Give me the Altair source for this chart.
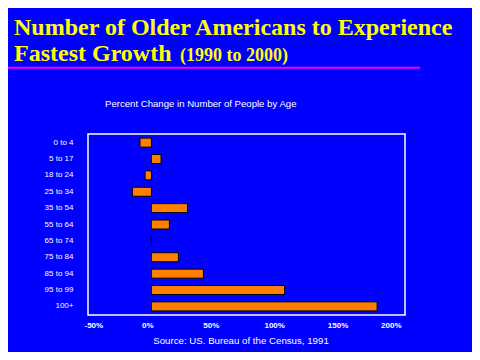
import altair as alt
import pandas as pd

ages = ["0 to 4", "5 to 17", "18 to 24", "25 to 34", "35 to 54", "55 to 64",
        "65 to 74", "75 to 84", "85 to 94", "95 to 99", "100+"]
pct_change = [-9, 7.6, -5, -15, 28.4, 14.2, 0, 21.3, 41, 105, 178]
x_ticks = [-0.5, 0, 0.5, 1.0, 1.5, 2.0]

df = pd.DataFrame({"age": ages, "change": [v / 100 for v in pct_change]})

W, H = 317, 181
BLUE = "#0000FF"

bars = alt.Chart(df).mark_bar(color="#FF8000", stroke="black", strokeWidth=1).encode(
    y=alt.Y("age:N", sort=ages,
            scale=alt.Scale(paddingInner=0.45, paddingOuter=0.25),
            axis=alt.Axis(title=None, ticks=False, domain=False, labelPadding=15,
                          labelColor="white", labelFontSize=8, labelFont="Liberation Sans")),
    x=alt.X("change:Q",
            scale=alt.Scale(domain=[-0.5, 2.0], nice=False, zero=False),
            axis=alt.Axis(title=None, values=x_ticks, format=".0%", grid=False,
                          labelExpr="replace(datum.label, '\u2212', '-')",
                          domain=False, ticks=False, labelPadding=6,
                          labelOffset=-4, labelColor="white", labelFontSize=8,
                          labelFont="Liberation Sans", labelFontWeight="bold")),
)

def txt(s, x, y, size, color, font, weight="normal", align="left", baseline="alphabetic"):
    return alt.Chart(pd.DataFrame({"t": [s]})).mark_text(
        align=align, baseline=baseline, fontSize=size, color=color, font=font,
        fontWeight=weight
    ).encode(text="t:N", x=alt.value(x), y=alt.value(y))

title1 = txt("Number of Older Americans to Experience", -74, -99.5, 24, "#FFFF00",
             "Liberation Serif", "bold")
title2a = txt("Fastest Growth", -74, -73, 24, "#FFFF00", "Liberation Serif", "bold")
title2b = txt("(1990 to 2000)", 92, -73, 18, "#FFFF00", "Liberation Serif", "bold")
underline = alt.Chart(pd.DataFrame({"a": [0]})).mark_rule(
    color="#FF00FF", strokeWidth=2
).encode(x=alt.value(-80), x2=alt.value(332), y=alt.value(-66.3))
subtitle = txt("Percent Change in Number of People by Age", 17, -30, 9.6, "white",
               "Liberation Sans", baseline="middle")
source = txt("Source: US. Bureau of the Census, 1991", 153, 207, 9.7, "white",
             "Liberation Sans", align="center", baseline="middle")

chart = alt.layer(bars, title1, title2a, title2b, underline, subtitle, source).properties(
    width=W, height=H,
    background=BLUE,
    autosize=alt.AutoSizeParams(type="none"),
    padding={"left": 80, "top": 126, "right": 67, "bottom": 37},
).configure_view(stroke="white", strokeWidth=1.5, fill=BLUE)

chart.save("out.html", embed_options={"renderer": "svg", "actions": False})
